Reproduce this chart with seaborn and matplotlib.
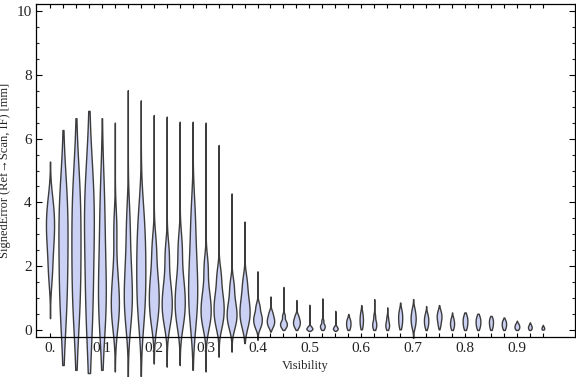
import numpy as np
import pandas as pd
import matplotlib
matplotlib.use("Agg")
import matplotlib.pyplot as plt
import seaborn as sns

# visibility bins (category positions)
visibility = [0.0, 0.025, 0.05, 0.075, 0.1, 0.125, 0.15, 0.175, 0.2, 0.225,
              0.25, 0.275, 0.3, 0.325, 0.35, 0.375, 0.4, 0.425, 0.45, 0.475,
              0.5, 0.525, 0.55, 0.575, 0.6, 0.625, 0.65, 0.675, 0.7, 0.725,
              0.75, 0.775, 0.8, 0.825, 0.85, 0.875, 0.9, 0.925, 0.95]

# signed error per bin: extremes + quintile midpoints
err_min = [0.37, -1.10, -1.25, -1.35, -1.25, -1.30, -1.50, -1.45, -1.05, -1.15,
           -1.10, -1.25, -1.30, -0.84, -0.68, -0.41, -0.31, -0.05, 0.0, 0.0,
           -0.03, 0.0, -0.03, 0.0, 0.02, 0.0, 0.0, 0.02, -0.25, 0.0,
           0.02, 0.0, 0.0, 0.0, 0.0, 0.0, 0.0, 0.0, 0.01]
err_max = [5.28, 6.27, 6.64, 6.87, 6.64, 6.50, 7.52, 7.20, 6.74, 6.69,
           6.53, 6.53, 6.50, 5.80, 4.28, 3.40, 1.84, 1.05, 1.35, 0.94,
           0.79, 0.99, 0.60, 0.50, 0.78, 0.97, 0.71, 0.86, 0.97, 0.75,
           0.78, 0.55, 0.55, 0.51, 0.44, 0.39, 0.29, 0.24, 0.16]
q10 = [1.8, 0.5, 0.5, 0.4, 0.4, 0.3, 0.4, 0.5, 0.3, 0.3,
       0.3, 0.4, 0.2, 0.2, 0.15, 0.2, 0.1, 0.12, 0.08, 0.1,
       0.0, 0.03, 0.0, 0.05, 0.1, 0.05, 0.05, 0.12, 0.1, 0.1,
       0.15, 0.05, 0.07, 0.07, 0.06, 0.05, 0.03, 0.02, 0.02]
q30 = [2.6, 1.5, 1.5, 1.2, 0.9, 0.7, 0.9, 1.2, 0.8, 0.7,
       0.7, 1.0, 0.5, 0.5, 0.4, 0.45, 0.25, 0.22, 0.15, 0.18,
       0.03, 0.09, 0.03, 0.13, 0.22, 0.13, 0.12, 0.25, 0.25, 0.2,
       0.3, 0.14, 0.17, 0.17, 0.15, 0.12, 0.07, 0.06, 0.04]
q50 = [3.1, 2.6, 2.6, 3.2, 1.6, 1.1, 1.4, 2.0, 1.2, 1.0,
       1.1, 1.6, 0.8, 0.8, 0.6, 0.7, 0.37, 0.31, 0.21, 0.26,
       0.05, 0.13, 0.05, 0.2, 0.32, 0.2, 0.18, 0.38, 0.37, 0.3,
       0.4, 0.21, 0.27, 0.25, 0.23, 0.18, 0.11, 0.09, 0.06]
q70 = [3.5, 3.6, 3.7, 3.9, 3.0, 1.8, 2.2, 2.7, 1.7, 1.5,
       1.6, 2.4, 1.2, 1.1, 0.9, 1.0, 0.5, 0.4, 0.28, 0.33,
       0.08, 0.18, 0.08, 0.27, 0.42, 0.28, 0.26, 0.48, 0.48, 0.38,
       0.48, 0.28, 0.35, 0.33, 0.3, 0.24, 0.15, 0.12, 0.08]
q90 = [4.0, 4.3, 4.6, 4.4, 4.3, 3.2, 3.4, 3.6, 2.6, 2.4,
       2.6, 3.6, 2.0, 1.7, 1.4, 1.5, 0.75, 0.55, 0.45, 0.45,
       0.12, 0.3, 0.12, 0.35, 0.55, 0.45, 0.4, 0.62, 0.65, 0.5,
       0.6, 0.38, 0.45, 0.42, 0.37, 0.3, 0.2, 0.17, 0.11]
# approximate number of observations per bin (sets violin width)
n_obs = [800, 900, 900, 970, 770, 800, 800, 900, 970, 1000,
         1000, 900, 1000, 1000, 970, 1000, 850, 730, 670, 670,
         600, 470, 470, 430, 330, 400, 370, 400, 500, 430,
         470, 400, 470, 470, 400, 430, 470, 370, 270]

x_tick_labels = ["0.", "0.1", "0.2", "0.3", "0.4", "0.5", "0.6", "0.7", "0.8", "0.9"]

rows = []
for i, v in enumerate(visibility):
    reps = max(n_obs[i] // 5, 1)
    vals = [err_min[i], err_max[i]] + [q10[i], q30[i], q50[i], q70[i], q90[i]] * reps
    rows += [(v, e) for e in vals]
df = pd.DataFrame(rows, columns=["Visibility", "SignedError"])


def body_bw(kde):
    # bandwidth from the spread of the body, not the long tails
    d = kde.dataset.ravel()
    lo, hi = np.percentile(d, [25, 75])
    return 0.55 * (hi - lo) / d.std(ddof=1)


sns.set_theme(style="ticks")
plt.rcParams["font.family"] = ["Liberation Serif", "DejaVu Serif"]
plt.rcParams["font.size"] = 9

fig = plt.figure(figsize=(5.76, 3.77), dpi=100)
ax = fig.add_axes([36 / 576, 40 / 377, 539 / 576, 333 / 377])

sns.violinplot(data=df, x="Visibility", y="SignedError", native_scale=True,
               density_norm="count", cut=0, bw_method=body_bw, gridsize=200,
               inner=None, width=0.78, color="#cbd1f4", saturation=1,
               linewidth=1.0, linecolor="#3c3c3c", ax=ax)
for c in ax.collections:
    c.set_clip_on(False)

ax.set_xlim(-0.027, 1.012)
ax.set_ylim(-0.22, 10.22)
ax.set_xticks(visibility[::4])
ax.set_xticklabels(x_tick_labels)
ax.set_xticks(visibility, minor=True)
ax.set_yticks(range(0, 11, 2))
ax.set_yticks(np.arange(0, 10.5, 0.5), minor=True)
ax.tick_params(axis="x", which="both", direction="in", length=3, width=0.8,
               top=True, bottom=True, pad=3.5, colors="black", labelcolor="#222222")
ax.tick_params(axis="y", which="major", direction="in", length=4, width=0.8,
               left=True, right=True, pad=3, colors="black", labelcolor="#222222")
ax.tick_params(axis="y", which="minor", direction="in", length=2.4, width=0.8,
               left=True, right=True)
for s in ax.spines.values():
    s.set_visible(True)
    s.set_color("black")
    s.set_linewidth(0.9)

ax.set_xlabel("Visibility", fontsize=9, labelpad=4)
ax.set_ylabel("SignedError (Ref\u2192Scan, IF) [mm]", fontsize=9, labelpad=4)

fig.savefig("out.png", dpi=100)
